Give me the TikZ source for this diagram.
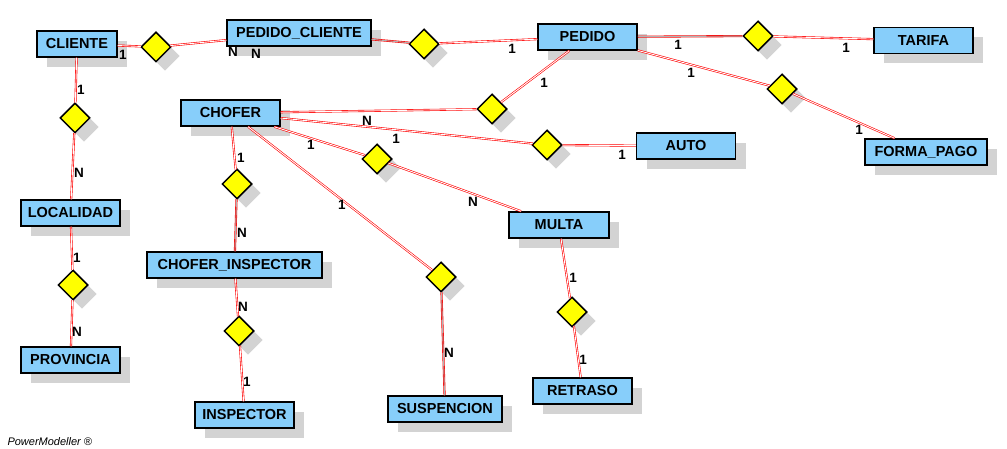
\documentclass[tikz,border=0pt]{standalone}
\usepackage{fontspec}
\setmainfont{Liberation Sans}
\usetikzlibrary{shapes.geometric,shadows}
\definecolor{entfill}{HTML}{87CEFA}
\definecolor{relfill}{HTML}{FFFF00}
\definecolor{shade}{HTML}{D3D3D3}
\tikzstyle{entity}=[rectangle,draw=black,line width=1.5pt,fill=entfill,minimum height=26pt,inner xsep=6pt,font=\fontsize{14.5}{16}\selectfont\bfseries,general shadow={fill=shade,shadow xshift=10pt,shadow yshift=-10pt}]
\tikzstyle{rel}=[diamond,draw=black,line width=1.5pt,fill=relfill,minimum width=30pt,minimum height=30pt,inner sep=0pt,general shadow={fill=shade,shadow xshift=9pt,shadow yshift=-9pt}]
\tikzstyle{edge} = [draw=red,line width=0.6pt,double=white,double distance=0.9pt]
\tikzstyle{edgegray} = [edge,double=gray!60]
\tikzstyle{card} = [font=\fontsize{13.5}{14}\selectfont\bfseries,inner sep=0pt]

\begin{document}
\begin{tikzpicture}[x=1pt,y=-1pt]
	\useasboundingbox (0,0) rectangle (1007,449);

	% Draw the entities
	\foreach \pos/\name/\txt/\boxw in {{(77,44)/cliente/CLIENTE/80}, {(299,33)/pedcli/PEDIDO\_CLIENTE/144},
							{(587.5,37)/pedido/PEDIDO/99}, {(923.5,40.5)/tarifa/TARIFA/99},
							{(230.5,113)/chofer/CHOFER/99}, {(686,146)/auto/AUTO/99},
							{(926,152)/formapago/FORMA\_PAGO/122}, {(70.5,213)/localidad/LOCALIDAD/99},
							{(559,225)/multa/MULTA/100}, {(234.5,265)/chofinsp/CHOFER\_INSPECTOR/175},
							{(70.5,360)/provincia/PROVINCIA/99}, {(244.5,415)/inspector/INSPECTOR/99},
							{(445,409)/suspencion/SUSPENCION/114}, {(582.5,391)/retraso/RETRASO/99}}
	\node[entity,minimum width=\boxw pt] (\name) at \pos {\txt};

	% Draw the relationships
	\foreach \pos/\name in {{(156,47)/r1}, {(424,44)/r2}, {(758,36)/r3}, {(75,118)/r4},
							{(492,109)/r5}, {(547,145)/r6}, {(782,89)/r7}, {(377,159)/r8},
							{(237,184)/r9}, {(73,285)/r10}, {(441,277)/r11}, {(239,331)/r12},
							{(572,312)/r13}}
	\node[rel] (\name) at \pos {};

	% Connect entities with relationships
	\foreach \source/ \dest in {cliente/r1, r1/pedcli, r2/pedido, r3/tarifa, pedido/r7, r7/formapago,
							cliente/r4, r4/localidad, localidad/r10, r10/provincia, pedido/r5, r5/chofer,
							chofer/r6, r6/auto, chofer/r8, r8/multa, chofer/r9, chofinsp/r12, r12/inspector,
							chofer/r11, multa/r13, r13/retraso}
	\path[edge] (\source) -- (\dest);

	\foreach \source/ \dest in {pedcli/r2, pedido/r3, r11/suspencion, r9/chofinsp}
	\path[edgegray] (\source) -- (\dest);

	% Cardinalities
	\foreach \pos/\name/\txt in {{(123,55)/c1/1}, {(81,90)/c2/1}, {(233,52)/c3/N}, {(256,54)/c4/N},
							{(512,49)/c5/1}, {(678,45)/c6/1}, {(691,73)/c7/1}, {(544,83)/c8/1},
							{(846,48)/c9/1}, {(859,130)/c10/1}, {(367,121)/c11/N}, {(396,139)/c12/1},
							{(311,145)/c13/1}, {(241,158)/c14/1}, {(622,155)/c15/1}, {(342,205)/c16/1},
							{(473,202)/c17/N}, {(573,278)/c18/1}, {(583,360)/c19/1}, {(449,353)/c20/N},
							{(79,173)/c21/N}, {(77,258)/c22/1}, {(77,332)/c23/N}, {(242,233)/c24/N},
							{(243,307)/c25/N}, {(247,382)/c26/1}}
	\node[card] (\name) at \pos {\txt};

	\node[font=\fontsize{11}{13}\selectfont\itshape,anchor=west] (brand) at (4,442) {PowerModeller \textregistered};
\end{tikzpicture}
\end{document}
